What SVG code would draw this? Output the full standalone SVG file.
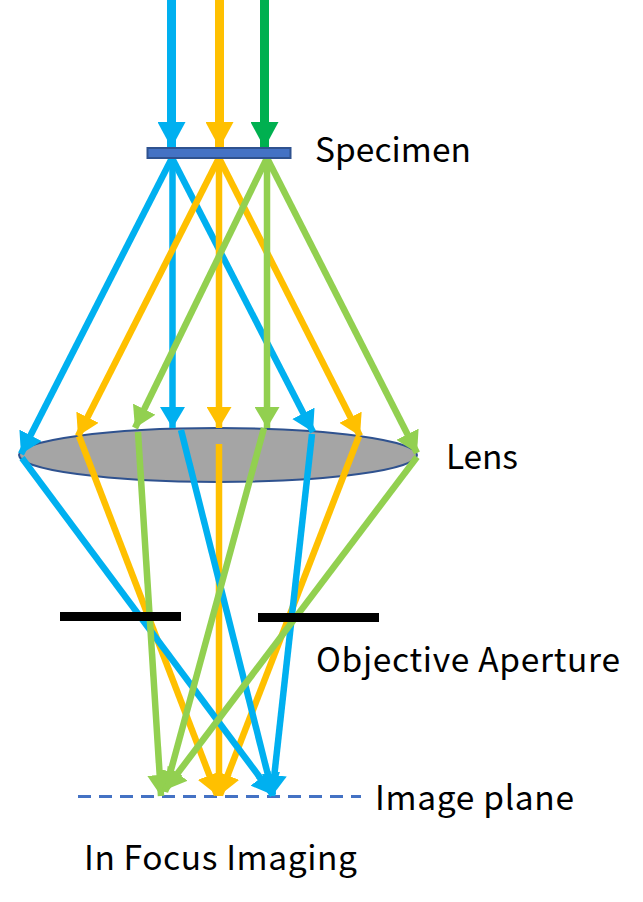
<svg xmlns="http://www.w3.org/2000/svg" width="643" height="902" viewBox="0 0 643 902">
<style>
.r{fill:none;stroke-width:6.5}
.t{fill:none;stroke-width:9}
.b{stroke:#00B0F0}.o{stroke:#FFC000}.g{stroke:#92D050}.d{stroke:#00B050}
.bar{fill:#000}
text{font-family:"Noto Sans CJK SC","Noto Sans",sans-serif;font-size:33.500px;fill:#000}
</style>
<defs>
<marker id="ab" viewBox="0 0 21 25" refX="21" refY="12.500" markerUnits="userSpaceOnUse" markerWidth="21" markerHeight="25" orient="auto"><path d="M0 0L21 12.500L0 25z" fill="#00B0F0"/></marker>
<marker id="ao" viewBox="0 0 21 25" refX="21" refY="12.500" markerUnits="userSpaceOnUse" markerWidth="21" markerHeight="25" orient="auto"><path d="M0 0L21 12.500L0 25z" fill="#FFC000"/></marker>
<marker id="ag" viewBox="0 0 21 25" refX="21" refY="12.500" markerUnits="userSpaceOnUse" markerWidth="21" markerHeight="25" orient="auto"><path d="M0 0L21 12.500L0 25z" fill="#92D050"/></marker>
<marker id="Tb" viewBox="0 0 26 28" refX="26" refY="14" markerUnits="userSpaceOnUse" markerWidth="26" markerHeight="28" orient="auto"><path d="M0 0L26 14L0 28z" fill="#00B0F0"/></marker>
<marker id="To" viewBox="0 0 26 28" refX="26" refY="14" markerUnits="userSpaceOnUse" markerWidth="26" markerHeight="28" orient="auto"><path d="M0 0L26 14L0 28z" fill="#FFC000"/></marker>
<marker id="Td" viewBox="0 0 26 28" refX="26" refY="14" markerUnits="userSpaceOnUse" markerWidth="26" markerHeight="28" orient="auto"><path d="M0 0L26 14L0 28z" fill="#00B050"/></marker>
</defs>
<g id="lens"><ellipse cx="218" cy="455" rx="199" ry="27" fill="#A5A5A5" stroke="#2F528F" stroke-width="2"/></g>
<g id="image-plane"><line x1="78" y1="796.500" x2="361" y2="796.500" stroke="#4472C4" stroke-width="3" stroke-dasharray="13 8"/></g>
<g id="connectors">
<line class="t b" x1="171.500" y1="0" x2="171.500" y2="148" marker-end="url(#Tb)"/>
<line class="t o" x1="219.500" y1="0" x2="219.500" y2="148" marker-end="url(#To)"/>
<line class="t d" x1="264.500" y1="0" x2="264.500" y2="148" marker-end="url(#Td)"/>
<line class="r b" x1="172" y1="158" x2="21" y2="454" marker-end="url(#ab)"/>
<line class="r b" x1="172.500" y1="158" x2="172.500" y2="428" marker-end="url(#ab)"/>
<line class="r b" x1="172" y1="158" x2="313" y2="432" marker-end="url(#ab)"/>
<line class="r o" x1="219" y1="158" x2="78" y2="436" marker-end="url(#ao)"/>
<line class="r o" x1="219" y1="158" x2="219" y2="428" marker-end="url(#ao)"/>
<line class="r o" x1="219" y1="158" x2="360" y2="436" marker-end="url(#ao)"/>
<line class="r g" x1="267" y1="158" x2="135" y2="428" marker-end="url(#ag)"/>
<line class="r g" x1="267" y1="158" x2="267" y2="428" marker-end="url(#ag)"/>
<line class="r g" x1="267" y1="158" x2="417" y2="453" marker-end="url(#ag)"/>
<line class="r o" x1="79" y1="436" x2="217" y2="795" marker-end="url(#ao)"/>
<line class="r o" x1="219" y1="444" x2="219" y2="796" marker-end="url(#ao)"/>
<line class="r o" x1="359" y1="436" x2="220" y2="795" marker-end="url(#ao)"/>
<line class="r b" x1="22" y1="458" x2="273" y2="795" marker-end="url(#ab)"/>
<line class="r b" x1="181" y1="430" x2="273" y2="795" marker-end="url(#ab)"/>
<line class="r b" x1="312" y1="434" x2="272" y2="796" marker-end="url(#ab)"/>
<line class="r g" x1="138" y1="432" x2="161" y2="796" marker-end="url(#ag)"/>
<line class="r g" x1="264" y1="428" x2="165" y2="792" marker-end="url(#ag)"/>
<line class="r g" x1="417" y1="457" x2="165" y2="790" marker-end="url(#ag)"/>
</g>
<g id="specimen"><rect x="147.500" y="148" width="143" height="10" fill="#4472C4" stroke="#2F528F" stroke-width="2"/></g>
<g id="aperture-left"><rect class="bar" x="60" y="612" width="121" height="9"/></g>
<g id="aperture-right"><rect class="bar" x="258" y="613" width="121" height="9"/></g>
<g id="labels">
<text x="315" y="162" textLength="156">Specimen</text>
<text x="446" y="469" textLength="72">Lens</text>
<text x="316" y="672" textLength="304">Objective Aperture</text>
<text x="375" y="810" textLength="199">Image plane</text>
<text x="84" y="870" textLength="273">In Focus Imaging</text>
</g>
</svg>
